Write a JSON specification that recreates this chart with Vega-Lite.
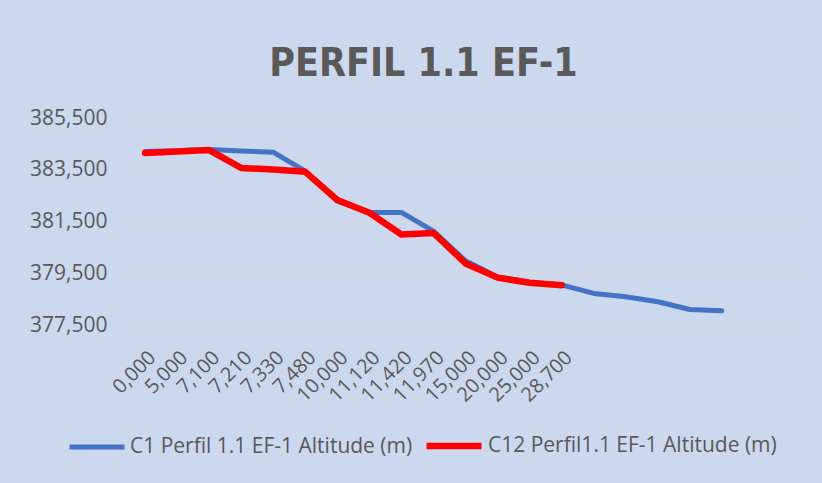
{
  "$schema": "https://vega.github.io/schema/vega-lite/v6.json",
  "autosize": {"type": "none"},
  "width": 673,
  "height": 207,
  "padding": {"left": 129, "top": 118, "right": 20, "bottom": 158},
  "background": "#ccd8ee",
  "title": {
    "text": "PERFIL 1.1 EF-1",
    "font": "Liberation Sans Narrow, DejaVu Sans Condensed, sans-serif",
    "fontSize": 39,
    "fontWeight": "bold",
    "color": "#595959",
    "anchor": "middle",
    "frame": "group",
    "baseline": "alphabetic",
    "dx": -42,
    "dy": 55,
    "offset": 47
  },
  "config": {
    "view": {"stroke": null},
    "font": "Open Sans"
  },
  "data": {
    "values": [
      {"dist": "0,000", "serie": "C1 Perfil 1.1 EF-1 Altitude (m)", "alt": 384.21},
      {"dist": "5,000", "serie": "C1 Perfil 1.1 EF-1 Altitude (m)", "alt": 384.23},
      {"dist": "7,100", "serie": "C1 Perfil 1.1 EF-1 Altitude (m)", "alt": 384.28},
      {"dist": "7,210", "serie": "C1 Perfil 1.1 EF-1 Altitude (m)", "alt": 384.22},
      {"dist": "7,330", "serie": "C1 Perfil 1.1 EF-1 Altitude (m)", "alt": 384.18},
      {"dist": "7,480", "serie": "C1 Perfil 1.1 EF-1 Altitude (m)", "alt": 383.45},
      {"dist": "10,000", "serie": "C1 Perfil 1.1 EF-1 Altitude (m)", "alt": 382.29},
      {"dist": "11,120", "serie": "C1 Perfil 1.1 EF-1 Altitude (m)", "alt": 381.85},
      {"dist": "11,420", "serie": "C1 Perfil 1.1 EF-1 Altitude (m)", "alt": 381.85},
      {"dist": "11,970", "serie": "C1 Perfil 1.1 EF-1 Altitude (m)", "alt": 381.13},
      {"dist": "15,000", "serie": "C1 Perfil 1.1 EF-1 Altitude (m)", "alt": 379.98},
      {"dist": "20,000", "serie": "C1 Perfil 1.1 EF-1 Altitude (m)", "alt": 379.36},
      {"dist": "25,000", "serie": "C1 Perfil 1.1 EF-1 Altitude (m)", "alt": 379.15},
      {"dist": "28,700", "serie": "C1 Perfil 1.1 EF-1 Altitude (m)", "alt": 379.05},
      {"dist": "p15", "serie": "C1 Perfil 1.1 EF-1 Altitude (m)", "alt": 378.72},
      {"dist": "p16", "serie": "C1 Perfil 1.1 EF-1 Altitude (m)", "alt": 378.59},
      {"dist": "p17", "serie": "C1 Perfil 1.1 EF-1 Altitude (m)", "alt": 378.40},
      {"dist": "p18", "serie": "C1 Perfil 1.1 EF-1 Altitude (m)", "alt": 378.10},
      {"dist": "p19", "serie": "C1 Perfil 1.1 EF-1 Altitude (m)", "alt": 378.05},
      {"dist": "0,000", "serie": "C12 Perfil1.1 EF-1 Altitude (m)", "alt": 384.15},
      {"dist": "5,000", "serie": "C12 Perfil1.1 EF-1 Altitude (m)", "alt": 384.21},
      {"dist": "7,100", "serie": "C12 Perfil1.1 EF-1 Altitude (m)", "alt": 384.26},
      {"dist": "7,210", "serie": "C12 Perfil1.1 EF-1 Altitude (m)", "alt": 383.57},
      {"dist": "7,330", "serie": "C12 Perfil1.1 EF-1 Altitude (m)", "alt": 383.51},
      {"dist": "7,480", "serie": "C12 Perfil1.1 EF-1 Altitude (m)", "alt": 383.42},
      {"dist": "10,000", "serie": "C12 Perfil1.1 EF-1 Altitude (m)", "alt": 382.33},
      {"dist": "11,120", "serie": "C12 Perfil1.1 EF-1 Altitude (m)", "alt": 381.84},
      {"dist": "11,420", "serie": "C12 Perfil1.1 EF-1 Altitude (m)", "alt": 381.0},
      {"dist": "11,970", "serie": "C12 Perfil1.1 EF-1 Altitude (m)", "alt": 381.06},
      {"dist": "15,000", "serie": "C12 Perfil1.1 EF-1 Altitude (m)", "alt": 379.88},
      {"dist": "20,000", "serie": "C12 Perfil1.1 EF-1 Altitude (m)", "alt": 379.33},
      {"dist": "25,000", "serie": "C12 Perfil1.1 EF-1 Altitude (m)", "alt": 379.13},
      {"dist": "28,700", "serie": "C12 Perfil1.1 EF-1 Altitude (m)", "alt": 379.04}
    ]
  },
  "mark": {"type": "line", "strokeCap": "round", "strokeJoin": "round"},
  "encoding": {
    "x": {
      "field": "dist",
      "type": "ordinal",
      "sort": null,
      "scale": {
        "domain": ["0,000", "5,000", "7,100", "7,210", "7,330", "7,480", "10,000", "11,120", "11,420", "11,970", "15,000", "20,000", "25,000", "28,700", "p15", "p16", "p17", "p18", "p19", "p20", "p21"],
        "type": "point",
        "padding": 0.5
      },
      "axis": {
        "title": null,
        "domain": false,
        "ticks": false,
        "tickSize": 0,
        "grid": false,
        "labelAngle": -45,
        "labelAlign": "right",
        "labelBaseline": "top",
        "labelPadding": 22,
        "labelFontSize": 20,
        "labelColor": "#595959",
        "labelFont": "Open Sans",
        "labelOverlap": false,
        "labelExpr": "indexof(datum.label, 'p') == 0 ? '' : datum.label"
      }
    },
    "y": {
      "field": "alt",
      "type": "quantitative",
      "scale": {"domain": [377.5, 385.5], "nice": false, "zero": false},
      "axis": {
        "title": null,
        "domain": false,
        "ticks": false,
        "tickSize": 0,
        "values": [377.5, 379.5, 381.5, 383.5, 385.5],
        "labelExpr": "replace(format(datum.value, '.3f'), '.', ',')",
        "labelFontSize": 21,
        "labelColor": "#595959",
        "labelFont": "Open Sans",
        "labelPadding": 22,
        "gridColor": "#d6d9df",
        "gridWidth": 1.5
      }
    },
    "color": {
      "field": "serie",
      "type": "nominal",
      "scale": {
        "domain": ["C1 Perfil 1.1 EF-1 Altitude (m)", "C12 Perfil1.1 EF-1 Altitude (m)"],
        "range": ["#4472c4", "#ff0000"]
      },
      "legend": {
        "title": null,
        "orient": "none",
        "direction": "horizontal",
        "legendX": -62,
        "legendY": 297,
        "symbolType": "stroke",
        "symbolSize": 3025,
        "symbolStrokeWidth": 5,
        "labelFontSize": 21,
        "labelFont": "Open Sans",
        "labelColor": "#595959",
        "labelLimit": 500,
        "labelOffset": 3,
        "columnPadding": 0
      }
    },
    "strokeWidth": {
      "field": "serie",
      "type": "nominal",
      "scale": {
        "domain": ["C1 Perfil 1.1 EF-1 Altitude (m)", "C12 Perfil1.1 EF-1 Altitude (m)"],
        "range": [5, 6.5]
      },
      "legend": null
    }
  }
}
